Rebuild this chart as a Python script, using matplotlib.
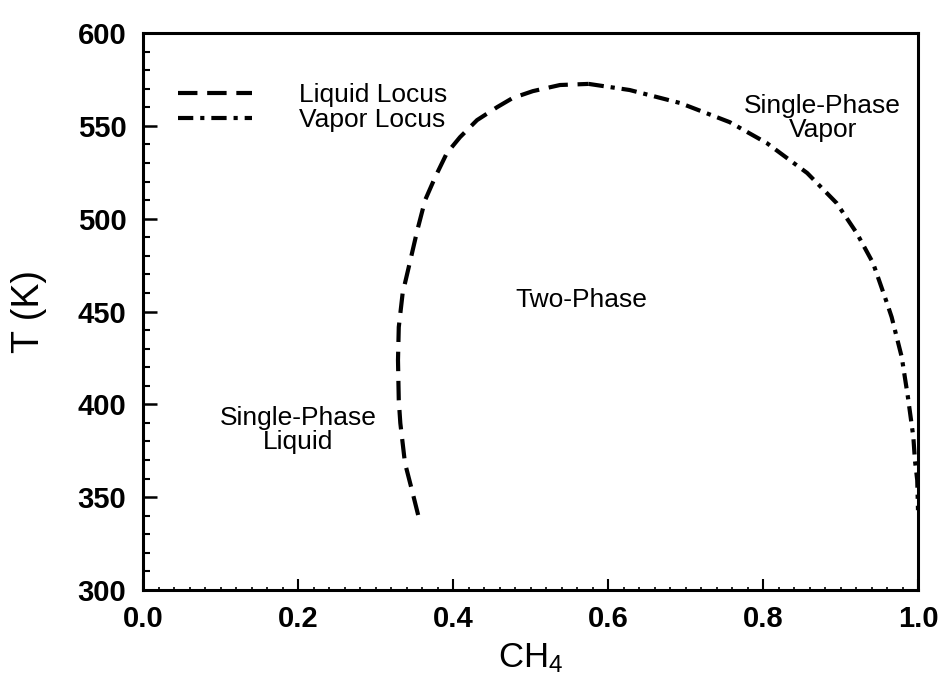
import matplotlib
matplotlib.use('Agg')
import matplotlib.pyplot as plt
from matplotlib.ticker import MultipleLocator

plt.rcParams['font.family'] = ['Liberation Sans', 'DejaVu Sans']
plt.rcParams['mathtext.default'] = 'regular'
plt.rcParams['lines.scale_dashes'] = False

# liquid locus (dashed)
liq_x = [0.355, 0.347, 0.338, 0.332, 0.330, 0.329, 0.330, 0.335, 0.345, 0.354,
         0.364, 0.377, 0.392, 0.409, 0.431, 0.457, 0.477, 0.503, 0.538, 0.575]
liq_T = [340.4, 353.8, 368.4, 389.9, 402.3, 423.8, 441.6, 459.9, 477.7, 493.9,
         510.0, 522.4, 535.3, 543.9, 553.1, 560.1, 565.0, 568.7, 572.0, 572.6]

# vapor locus (dash-dot)
vap_x = [0.575, 0.628, 0.693, 0.757, 0.805, 0.857, 0.895, 0.921, 0.942, 0.960,
         0.966, 0.979, 0.987, 0.994, 0.996, 0.999, 1.0]
vap_T = [572.6, 569.3, 562.3, 552.0, 540.7, 524.6, 508.4, 492.2, 476.1, 454.5,
         447.0, 425.5, 403.9, 382.4, 370.0, 359.2, 343.0]

fig = plt.figure(figsize=(9.51, 6.81), dpi=100)
ax = fig.add_axes([0.1504, 0.1336, 0.8149, 0.8179])

ax.plot(liq_x, liq_T, color='black', lw=3, dashes=(14, 7),
        dash_capstyle='butt', label='Liquid Locus')
ax.plot(vap_x, vap_T, color='black', lw=3, dashes=(11, 5, 3, 5),
        dash_capstyle='butt', label='Vapor Locus')

ax.set_xlim(0, 1)
ax.set_ylim(300, 600)
ax.xaxis.set_major_locator(MultipleLocator(0.2))
ax.xaxis.set_minor_locator(MultipleLocator(0.02))
ax.yaxis.set_major_locator(MultipleLocator(50))
ax.yaxis.set_minor_locator(MultipleLocator(10))
ax.set_xticklabels([f'{v:.1f}' for v in ax.get_xticks()])

ax.tick_params(axis='both', which='both', direction='in', top=False, right=False)
ax.tick_params(axis='x', which='major', length=8, width=1.5, pad=11)
ax.tick_params(axis='x', which='minor', length=2.5, width=1.2)
ax.tick_params(axis='y', which='major', length=10, width=1.8, pad=12)
ax.tick_params(axis='y', which='minor', length=5, width=1.5)
for lab in ax.get_xticklabels() + ax.get_yticklabels():
    lab.set_fontsize(21)
    lab.set_fontweight('bold')
for sp in ax.spines.values():
    sp.set_linewidth(2.2)

ax.set_xlabel('CH$_4$', fontsize=25, labelpad=6)
ax.set_ylabel('T (K)', fontsize=27)
ax.yaxis.set_label_coords(-0.124, 0.5)

ax.text(0.20, 386, 'Single-Phase\nLiquid', fontsize=19, ha='center', va='center',
        linespacing=1.0)
ax.text(0.565, 456, 'Two-Phase', fontsize=19, ha='center', va='center')
ax.text(0.877, 554, 'Single-Phase\nVapor', fontsize=19, ha='center', va='center',
        linespacing=1.0)

ax.legend(loc='upper left', bbox_to_anchor=(0.045, 0.91), frameon=False,
          fontsize=19, handlelength=2.8, handletextpad=1.8, labelspacing=0.05,
          borderaxespad=0, borderpad=0)

plt.savefig('out.png', dpi=100)
